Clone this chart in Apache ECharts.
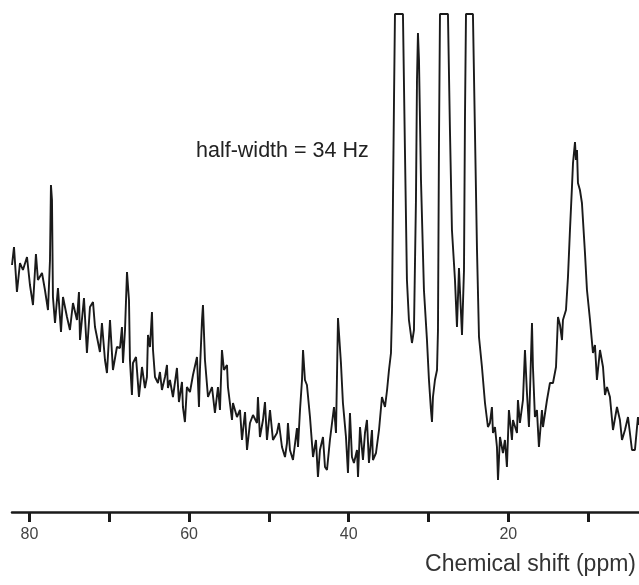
<html>
<head>
<meta charset="utf-8">
<title>NMR spectrum</title>
<script src="https://cdn.jsdelivr.net/npm/echarts@6/dist/echarts.min.js"></script>
<style>
  body { margin: 0; background: #fff; }
  #chart { width: 639px; height: 585px; }
</style>
</head>
<body>
<div id="chart"></div>
<script>
// spectrum, [ppm, intensity] (intensity = height above the axis)
var seg82to60 = [
  [82.19,247],[81.94,265],[81.57,220],[81.19,249],[80.82,242],[80.31,255],[79.94,227],[79.56,207],
  [79.19,258],[78.94,232],[78.43,239],[78.06,222],[77.68,202],[77.43,252],[77.31,327],[77.18,312],
  [77.06,215],[76.80,189],[76.43,224],[76.05,180],[75.80,215],[75.30,195],[74.93,182],[74.55,209],
  [74.05,192],[73.80,220],[73.67,172],[73.17,214],[72.80,159],[72.42,205],[72.04,210],[71.79,185],
  [71.17,160],[70.92,189],[70.54,152],[70.29,139],[69.91,192],[69.54,142],[69.04,165],[68.66,164],
  [68.41,185],[68.28,149],[68.03,182],[67.78,240],[67.53,212],[67.41,152],[67.16,117],[67.03,149],
  [66.65,155],[66.28,115],[65.90,145],[65.53,124],[65.28,135],[65.15,177],[64.90,165],[64.65,200],
  [64.52,162],[64.27,135],[63.90,129],[63.65,140],[63.40,122],[63.02,135],[62.77,147],[62.65,124],
  [62.40,132],[62.02,115],[61.52,144],[61.27,110],[60.89,130],[60.77,105],[60.52,90],[60.27,125]
];
var seg60to36 = [
  [59.89,120],[59.51,137],[59.01,155],[58.76,105],[58.64,142],[58.38,192],[58.26,207],[58.01,152],
  [57.63,115],[57.13,125],[56.76,99],[56.38,125],[56.13,102],[55.88,162],[55.63,142],[55.25,147],
  [55.13,125],[54.62,92],[54.50,109],[54.00,95],[53.62,102],[53.37,72],[52.99,100],[52.74,62],
  [52.37,89],[51.99,97],[51.49,89],[51.37,115],[51.12,75],[50.74,92],[50.49,110],[50.24,72],
  [49.86,102],[49.49,72],[48.99,79],[48.74,89],[48.36,65],[47.98,55],[47.73,69],[47.61,89],
  [47.36,62],[46.98,52],[46.48,84],[46.35,65],[46.10,102],[45.85,132],[45.72,162],[45.48,132],
  [45.23,127],[44.85,95],[44.47,55],[44.10,72],[43.85,35],[43.60,62],[43.22,75],[42.97,45],
  [42.72,42],[42.35,72],[41.84,105],[41.59,79],[41.34,194],[40.97,149],[40.72,109],[40.34,75],
  [40.09,39],[39.84,99],[39.59,55],[39.34,49],[38.96,62],[38.83,35],[38.58,85],[38.21,52],
  [37.96,79],[37.71,92],[37.46,49],[37.08,82],[36.96,52],[36.58,59],[36.20,82]
];
var seg36to22 = [
  [35.83,115],[35.45,105],[35.19,122],[34.95,142],[34.70,159],[34.57,202],[34.45,312],[34.32,412],
  [34.20,498],[33.20,498],[32.95,362],[32.70,232],[32.45,192],[32.07,169],[31.82,182],[31.57,312],
  [31.44,432],[31.32,479],[31.19,452],[30.94,332],[30.57,222],[30.19,172],[29.94,132],[29.69,102],
  [29.56,90],[29.44,115],[29.19,132],[28.93,142],[28.81,182],[28.69,362],[28.56,498],[27.56,498],
  [27.31,382],[27.06,282],[26.68,232],[26.43,185],[26.18,244],[26.06,222],[25.80,177],[25.55,242],
  [25.43,392],[25.30,498],[24.43,498],[24.18,382],[23.92,262],[23.67,175],[23.30,145],[22.92,109],
  [22.55,85],[22.30,89]
];
var seg22to3 = [
  [22.05,105],[21.92,79],[21.67,85],[21.42,65],[21.29,32],[21.04,75],[20.67,59],[20.42,72],
  [20.17,45],[19.92,102],[19.54,72],[19.41,92],[18.91,79],[18.79,112],[18.54,89],[18.16,112],
  [17.91,162],[17.66,119],[17.41,85],[17.03,189],[16.91,145],[16.66,95],[16.41,102],[16.16,65],
  [15.78,102],[15.65,85],[15.15,112],[14.78,129],[14.40,129],[14.02,145],[13.77,195],[13.52,187],
  [13.27,172],[13.15,192],[12.77,202],[12.52,235],[12.27,282],[12.02,325],[11.89,349],[11.64,370],
  [11.52,352],[11.39,362],[11.27,329],[11.02,322],[10.77,309],[10.39,259],[10.14,222],[9.76,192],
  [9.39,159],[9.14,167],[8.89,132],[8.51,162],[8.13,145],[7.88,117],[7.63,125],[7.26,115],
  [6.88,82],[6.38,105],[6.01,92],[5.75,72],[5.38,82],[5.00,95],[4.50,62],[4.13,62],[3.75,95],[3.62,87]
];
var tickValues = [10, 20, 30, 40, 50, 60, 70, 80];
var labelValues = [20, 40, 60, 80];
var noteText = 'half-width = 34 Hz';
var axisTitle = 'Chemical shift (ppm)';

var spectrum = seg82to60.concat(seg60to36, seg36to22, seg22to3);

var chart = echarts.init(document.getElementById('chart'));
var option = {
  animation: false,
  backgroundColor: '#fff',
  grid: { left: 12, right: 0, top: 14, bottom: 73 },
  xAxis: {
    type: 'value',
    inverse: true,
    min: 3.62,
    max: 82.19,
    axisLine: { lineStyle: { color: '#1a1a1a', width: 2.5 } },
    axisTick: {
      customValues: tickValues,
      length: 10,
      lineStyle: { color: '#1a1a1a', width: 3 }
    },
    axisLabel: {
      customValues: labelValues,
      margin: 15,
      color: '#444',
      fontSize: 16,
      fontFamily: 'Liberation Sans'
    },
    splitLine: { show: false }
  },
  yAxis: {
    type: 'value',
    min: 0,
    max: 498,
    show: false
  },
  graphic: [
    {
      type: 'text',
      left: 196,
      top: 140,
      style: { text: noteText, fill: '#222', font: '21.5px "Liberation Sans"' }
    },
    {
      type: 'text',
      right: 3,
      top: 553,
      style: { text: axisTitle, fill: '#333', font: '23px "Liberation Sans"' }
    }
  ],
  series: [
    {
      type: 'line',
      data: spectrum,
      showSymbol: false,
      smooth: false,
      lineStyle: { color: '#1a1a1a', width: 1.9 },
      clip: true
    }
  ]
};
chart.setOption(option);
</script>
</body>
</html>
